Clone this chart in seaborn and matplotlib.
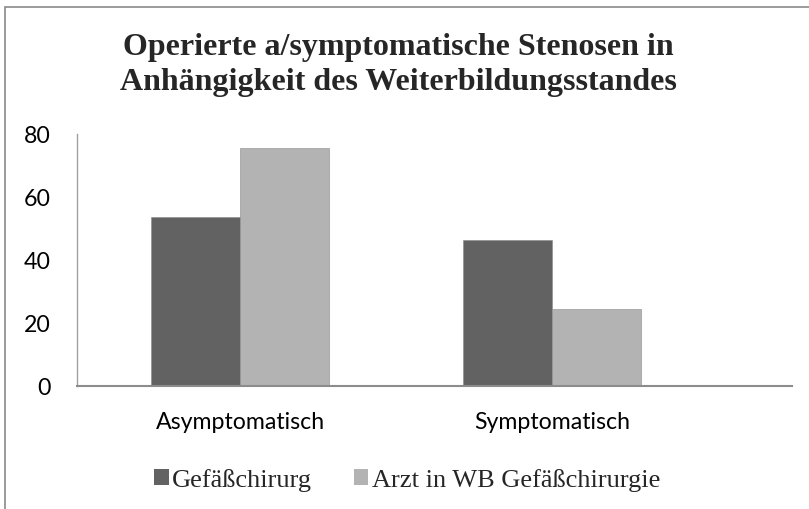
import matplotlib
matplotlib.use("Agg")
import matplotlib.pyplot as plt
import seaborn as sns
import pandas as pd
from matplotlib.patches import Rectangle, Patch

categories = ["Asymptomatisch", "Symptomatisch"]
series_names = ["Gefäßchirurg", "Arzt in WB Gefäßchirurgie"]
gefaess_values = [53.6, 46.4]
arzt_values = [75.4, 24.6]
y_ticks = [0, 20, 40, 60, 80]
title = "Operierte a/symptomatische Stenosen in\nAnhängigkeit des Weiterbildungsstandes"
colors = ["#626262", "#b3b3b3"]

df = pd.DataFrame({
    "Kategorie": categories * 2,
    "Gruppe": [series_names[0]] * 2 + [series_names[1]] * 2,
    "Wert": gefaess_values + arzt_values,
})

sns.set_style("white")
W, H = 809, 510
fig = plt.figure(figsize=(W / 100, H / 100), dpi=100)
ax = fig.add_axes([77 / W, 1 - 387 / H, (792 - 77) / W, (387 - 135) / H])

sns.barplot(data=df, x="Kategorie", y="Wert", hue="Gruppe", palette=colors,
            order=categories, hue_order=series_names, width=0.57, dodge=True,
            ax=ax, legend=False, saturation=1, edgecolor="#8a8a8a", linewidth=0.4)

ax.set_xlim(-0.522, 1.767)
ax.set_ylim(0, 80)
ax.set_yticks(y_ticks)
ax.set_xlabel("")
ax.set_ylabel("")
for s in ["top", "right"]:
    ax.spines[s].set_visible(False)
ax.spines["bottom"].set_color("#8c8c8c")
ax.spines["bottom"].set_linewidth(1.5)
ax.spines["left"].set_color("#a0a0a0")
ax.spines["left"].set_linewidth(1.0)
ax.tick_params(axis="both", length=0, labelsize=16.7, colors="black")
ax.tick_params(axis="y", pad=19)
ax.tick_params(axis="x", pad=18)
for lab in ax.get_xticklabels() + ax.get_yticklabels():
    lab.set_family("Lato")

fig.text(398 / W, 1 - 65 / H, title, ha="center", va="center",
         family="Liberation Serif", fontweight="bold", fontsize=23, linespacing=1.3)

handles = [Patch(facecolor=c, edgecolor="none") for c in colors]
leg = fig.legend(handles, series_names, loc="center", bbox_to_anchor=(407 / W, 1 - 481 / H),
                 ncol=2, frameon=False, prop={"family": "Liberation Serif", "size": 19},
                 handlelength=0.55, handleheight=0.55, handletextpad=0.12, columnspacing=1.6,
                 borderpad=0)

fig.add_artist(Rectangle((5 / W, -0.05), 1.2, 1 - 8 / H + 0.05, transform=fig.transFigure,
                         fill=False, edgecolor="#8a8a8a", linewidth=1.2))

fig.savefig("out.png", dpi=100)
